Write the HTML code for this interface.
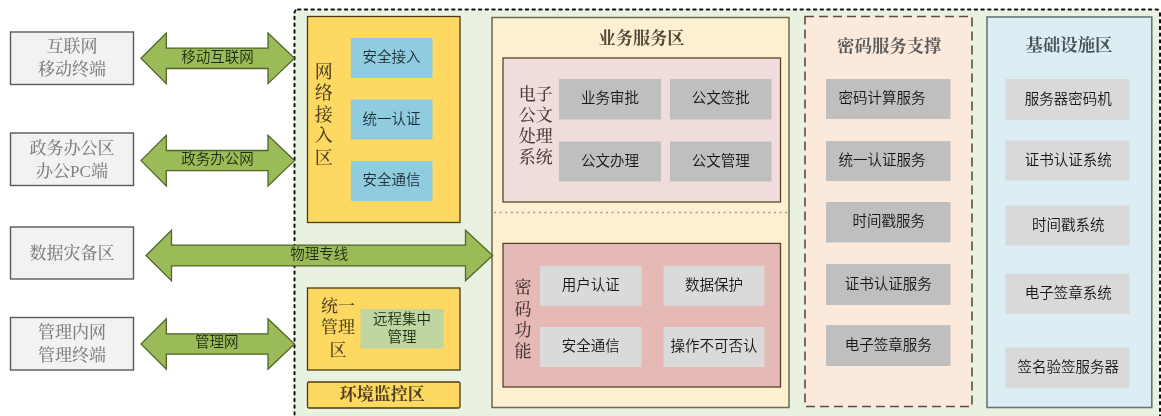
<!DOCTYPE html>
<html lang="zh-CN"><head><meta charset="utf-8"><title>密码服务架构</title>
<style>html,body{margin:0;padding:0;background:#fff;}body{width:1161px;height:416px;overflow:hidden;}svg{display:block;}.s{font-family:"Liberation Sans", "Noto Sans CJK SC", sans-serif;font-weight:350;}.f{font-family:"Liberation Serif", "Noto Serif CJK SC", serif;font-weight:500;}text{text-anchor:middle;dominant-baseline:central;}</style></head><body>
<svg width="1161" height="416" viewBox="0 0 1161 416">
<defs><filter id="soft" filterUnits="userSpaceOnUse" x="-20" y="-20" width="1201" height="456"><feGaussianBlur stdDeviation="0.5"/></filter></defs><g filter="url(#soft)">
<rect x="294.5" y="9.4" width="865.5" height="420" rx="3.5" ry="3.5" fill="#E9F2E0"/>
<rect x="10.5" y="32" width="123.0" height="52.5" fill="#F2F2F2" stroke="#5a5a5a" stroke-width="1.4" />
<text class="f" x="72" y="46.95" font-size="17" fill="#808080" >互联网</text>
<text class="f" x="72" y="69.95" font-size="17" fill="#808080" >移动终端</text>
<rect x="10.5" y="133" width="123.0" height="52.5" fill="#F2F2F2" stroke="#5a5a5a" stroke-width="1.4" />
<text class="f" x="72" y="148.95" font-size="17" fill="#808080" >政务办公区</text>
<text class="f" x="72" y="171.95" font-size="17" fill="#808080" >办公PC端</text>
<rect x="10.5" y="227" width="123.0" height="52.0" fill="#F2F2F2" stroke="#5a5a5a" stroke-width="1.4" />
<text class="f" x="72" y="253.0" font-size="17" fill="#808080" >数据灾备区</text>
<rect x="10.5" y="317.5" width="123.0" height="52.5" fill="#F2F2F2" stroke="#5a5a5a" stroke-width="1.4" />
<text class="f" x="72" y="332.45" font-size="17" fill="#808080" >管理内网</text>
<text class="f" x="72" y="355.45" font-size="17" fill="#808080" >管理终端</text>
<rect x="307.5" y="16.5" width="152.5" height="206.0" fill="#FDD962" stroke="#4a3a12" stroke-width="1.3" />
<rect x="307.5" y="288" width="152.5" height="82.0" fill="#FDD962" stroke="#4a3a12" stroke-width="1.3" />
<rect x="307.5" y="382" width="152.5" height="26.0" fill="#FDD962" stroke="#4a3a12" stroke-width="1.3" rx="1.5"/>
<rect x="350.8" y="38" width="81.7" height="40.0" fill="#90CCE0" />
<text class="s" x="391.5" y="57.0" font-size="14.5" fill="#1c2b33" >安全接入</text>
<rect x="350.8" y="99.5" width="81.7" height="40.0" fill="#90CCE0" />
<text class="s" x="391.5" y="118.5" font-size="14.5" fill="#1c2b33" >统一认证</text>
<rect x="350.8" y="161" width="81.7" height="40.0" fill="#90CCE0" />
<text class="s" x="391.5" y="180.0" font-size="14.5" fill="#1c2b33" >安全通信</text>
<text class="f" x="323.7" y="72" font-size="18" fill="#524420" >网</text>
<text class="f" x="323.7" y="93.4" font-size="18" fill="#524420" >络</text>
<text class="f" x="323.7" y="114.8" font-size="18" fill="#524420" >接</text>
<text class="f" x="323.7" y="136.2" font-size="18" fill="#524420" >入</text>
<text class="f" x="323.7" y="157.7" font-size="18" fill="#524420" >区</text>
<rect x="360.5" y="309" width="83.0" height="39.5" fill="#BFD5A2" />
<text class="s" x="402" y="318.5" font-size="14.5" fill="#1f2a10" >远程集中</text>
<text class="s" x="402" y="337.2" font-size="14.5" fill="#1f2a10" >管理</text>
<text class="f" x="338" y="306" font-size="17" fill="#524420" >统一</text>
<text class="f" x="338" y="327.5" font-size="17" fill="#524420" >管理</text>
<text class="f" x="338" y="350" font-size="17" fill="#524420" >区</text>
<text class="f" x="382.2" y="394.3" font-size="17" fill="#4f4020" style="font-weight:700" >环境监控区</text>
<rect x="492" y="17.5" width="297.0" height="390.0" fill="#FDF0D2" stroke="#6e6a4c" stroke-width="1.5" />
<text class="f" x="641.5" y="38.2" font-size="17.2" fill="#54493a" style="font-weight:700" >业务服务区</text>
<rect x="503" y="58" width="277.5" height="144.0" fill="#EFDCDB" stroke="#5a4326" stroke-width="1.3" />
<rect x="559" y="79" width="102.0" height="40.5" fill="#BFBFBF" />
<text class="s" x="610.0" y="98.25" font-size="14.5" fill="#151515" >业务审批</text>
<rect x="670" y="79" width="101.5" height="40.5" fill="#BFBFBF" />
<text class="s" x="720.75" y="98.25" font-size="14.5" fill="#151515" >公文签批</text>
<rect x="559" y="141.5" width="102.0" height="40.0" fill="#BFBFBF" />
<text class="s" x="610.0" y="160.5" font-size="14.5" fill="#151515" >公文办理</text>
<rect x="670" y="141.5" width="101.5" height="40.0" fill="#BFBFBF" />
<text class="s" x="720.75" y="160.5" font-size="14.5" fill="#151515" >公文管理</text>
<text class="f" x="535.7" y="94" font-size="17" fill="#483c3c" >电子</text>
<text class="f" x="535.7" y="115" font-size="17" fill="#483c3c" >公文</text>
<text class="f" x="535.7" y="136.5" font-size="17" fill="#483c3c" >处理</text>
<text class="f" x="535.7" y="157.5" font-size="17" fill="#483c3c" >系统</text>
<line x1="494" y1="212.5" x2="788" y2="212.5" stroke="#a09a88" stroke-width="1.4" stroke-dasharray="2 3.6"/>
<rect x="503" y="243.4" width="277.5" height="143.6" fill="#E5B9B6" stroke="#5a4326" stroke-width="1.3" />
<rect x="540" y="266" width="101.5" height="40.0" fill="#DADADA" />
<text class="s" x="590.75" y="285.0" font-size="14.5" fill="#151515" >用户认证</text>
<rect x="663.5" y="266" width="101.0" height="40.0" fill="#DADADA" />
<text class="s" x="714.0" y="285.0" font-size="14.5" fill="#151515" >数据保护</text>
<rect x="540" y="327" width="101.5" height="40.0" fill="#DADADA" />
<text class="s" x="590.75" y="346.0" font-size="14.5" fill="#151515" >安全通信</text>
<rect x="663.5" y="327" width="101.0" height="40.0" fill="#DADADA" />
<text class="s" x="714.0" y="346.0" font-size="14.5" fill="#151515" >操作不可否认</text>
<text class="f" x="523" y="287" font-size="17" fill="#4c3838" >密</text>
<text class="f" x="523" y="309" font-size="17" fill="#4c3838" >码</text>
<text class="f" x="523" y="330" font-size="17" fill="#4c3838" >功</text>
<text class="f" x="523" y="351.5" font-size="17" fill="#4c3838" >能</text>
<rect x="294.5" y="9.4" width="865.5" height="420" rx="3.5" ry="3.5" fill="none" stroke="#111" stroke-width="2" stroke-dasharray="2.4 4.3" stroke-linecap="round"/>
<polygon points="141.0,58.3 166.3,33.0 166.3,48.1 268.0,48.1 268.0,33.0 294.5,58.3 268.0,83.6 268.0,68.5 166.3,68.5 166.3,83.6" fill="#9BBB59" stroke="#526629" stroke-width="1.3" stroke-linejoin="miter"/>
<text class="s" x="217.5" y="56.599999999999994" font-size="14.5" fill="#1f2a10" >移动互联网</text>
<polygon points="141.0,160.6 166.3,135.3 166.3,150.5 268.0,150.5 268.0,135.3 294.5,160.6 268.0,185.9 268.0,170.7 166.3,170.7 166.3,185.9" fill="#9BBB59" stroke="#526629" stroke-width="1.3" stroke-linejoin="miter"/>
<text class="s" x="217.5" y="158.79999999999998" font-size="14.5" fill="#1f2a10" >政务办公网</text>
<polygon points="146.0,255.5 171.5,230.2 171.5,245.1 465.5,245.1 465.5,230.2 492.7,255.5 465.5,280.8 465.5,265.9 171.5,265.9 171.5,280.8" fill="#9BBB59" stroke="#526629" stroke-width="1.3" stroke-linejoin="miter"/>
<text class="s" x="319.2" y="254.1" font-size="14.5" fill="#1f2a10" >物理专线</text>
<polygon points="141.0,344.0 166.3,318.7 166.3,333.8 268.0,333.8 268.0,318.7 294.5,344.0 268.0,369.3 268.0,354.2 166.3,354.2 166.3,369.3" fill="#9BBB59" stroke="#526629" stroke-width="1.3" stroke-linejoin="miter"/>
<text class="s" x="216.8" y="341.8" font-size="14.5" fill="#1f2a10" >管理网</text>
<rect x="805" y="16.5" width="167.0" height="390.0" fill="#FBE9DC" stroke="#5a4e46" stroke-width="1.6" stroke-dasharray="9 5"/>
<text class="f" x="889.3" y="45.6" font-size="17.4" fill="#5a5a5a" style="font-weight:700" >密码服务支撑</text>
<rect x="826" y="79" width="124.5" height="40.0" fill="#BFBFBF" />
<text class="s" x="882" y="98.0" font-size="14.5" fill="#151515" >密码计算服务</text>
<rect x="826" y="141" width="124.5" height="40.0" fill="#BFBFBF" />
<text class="s" x="882" y="160.0" font-size="14.5" fill="#151515" >统一认证服务</text>
<rect x="826" y="202" width="124.5" height="40.5" fill="#BFBFBF" />
<text class="s" x="888.7" y="221.25" font-size="14.5" fill="#151515" >时间戳服务</text>
<rect x="826" y="264" width="124.5" height="41.0" fill="#BFBFBF" />
<text class="s" x="888.2" y="283.5" font-size="14.5" fill="#151515" >证书认证服务</text>
<rect x="826" y="325" width="124.5" height="41.0" fill="#BFBFBF" />
<text class="s" x="888.2" y="344.5" font-size="14.5" fill="#151515" >电子签章服务</text>
<rect x="987" y="17" width="164.8" height="390.5" fill="#DCEDF4" stroke="#66757a" stroke-width="1.6" />
<text class="f" x="1069" y="45.2" font-size="17.4" fill="#4a5258" style="font-weight:700" >基础设施区</text>
<rect x="1005.4" y="79" width="124.0" height="41.0" fill="#D9D9D9" />
<text class="s" x="1068.3" y="98.5" font-size="14.5" fill="#151515" >服务器密码机</text>
<rect x="1005.4" y="140.5" width="124.0" height="40.0" fill="#D9D9D9" />
<text class="s" x="1068.3" y="159.5" font-size="14.5" fill="#151515" >证书认证系统</text>
<rect x="1005.4" y="205.5" width="124.0" height="40.0" fill="#D9D9D9" />
<text class="s" x="1068.3" y="224.5" font-size="14.5" fill="#151515" >时间戳系统</text>
<rect x="1005.4" y="273.5" width="124.0" height="40.5" fill="#D9D9D9" />
<text class="s" x="1068.3" y="292.75" font-size="14.5" fill="#151515" >电子签章系统</text>
<rect x="1005.4" y="347.5" width="124.0" height="40.8" fill="#D9D9D9" />
<text class="s" x="1068.3" y="366.9" font-size="14.5" fill="#151515" >签名验签服务器</text>
</g></svg></body></html>
